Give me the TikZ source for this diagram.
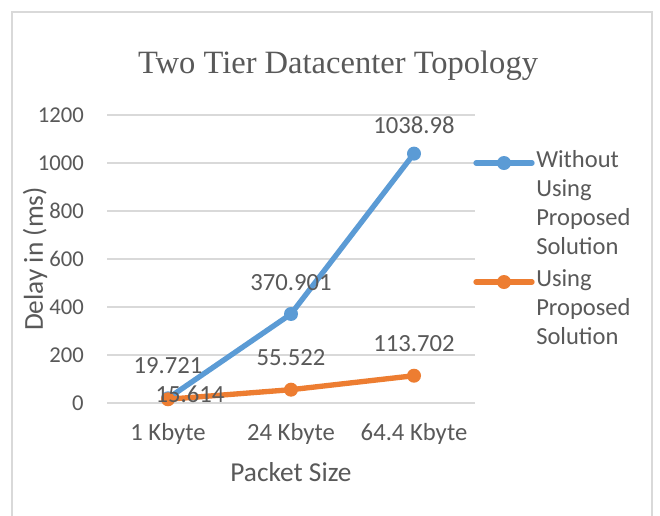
\documentclass[tikz,border=0pt]{standalone}
\usepackage{fontspec}
\setmainfont{Carlito}
\newfontfamily\titlefont{Liberation Serif}
\definecolor{seriesA}{HTML}{5B9BD5}
\definecolor{seriesB}{HTML}{ED7D31}
\definecolor{gridgray}{HTML}{D9D9D9}
\definecolor{txtgray}{HTML}{595959}
\tikzset{
  gridline/.style={draw=gridgray, line width=1.5},
  ticklabel/.style={text=txtgray, font=\fontsize{17}{20}\selectfont, inner sep=0pt},
  catlabel/.style={text=txtgray, font=\fontsize{18.5}{22}\selectfont, inner sep=0pt},
  axistitle/.style={text=txtgray, font=\fontsize{20.5}{24}\selectfont, inner sep=0pt},
  valuelabel/.style={text=txtgray, font=\fontsize{18.5}{22}\selectfont, inner sep=0pt},
  serieslineA/.style={draw=seriesA, line width=4, line cap=round, line join=round},
  serieslineB/.style={draw=seriesB, line width=4, line cap=round, line join=round},
  markA/.style={circle, fill=seriesA, minimum size=10.5pt, inner sep=0pt},
  markB/.style={circle, fill=seriesB, minimum size=10.5pt, inner sep=0pt},
  legendtext/.style={text=txtgray, font=\fontsize{18.4}{21.9}\selectfont, align=left, anchor=north west, inner sep=0pt},
}
\begin{document}
\begin{tikzpicture}[x=0.75pt, y=-0.75pt]
\useasboundingbox (0,0) rectangle (660,515);
\fill[white] (0,0) rectangle (660,515);
% chart frame
\begin{scope}
\clip (0,0) rectangle (660,515);
\draw[gridgray, line width=1.2] (12,530) -- (12,12) -- (652,12) -- (652,530);
\end{scope}

% title
\node[text=txtgray, font=\titlefont\fontsize{24.4}{28}\selectfont] (title) at (338,66) {Two Tier Datacenter Topology};

% horizontal grid and value axis labels
\foreach \v/\name in {0/t0,200/t200,400/t400,600/t600,800/t800,1000/t1000,1200/t1200}{
  \draw[gridline] (107,{403-0.24*\v}) -- (475,{403-0.24*\v});
  \node[ticklabel, anchor=east] (\name) at (84,{403-0.24*\v}) {\v};
}

% category labels
\node[catlabel] (c1) at (168,434) {1 Kbyte};
\node[catlabel] (c2) at (291,434) {24 Kbyte};
\node[catlabel] (c3) at (414,434) {64.4 Kbyte};

% axis titles
\node[axistitle] (xtitle) at (291,472) {Packet Size};
\node[axistitle, rotate=90] (ytitle) at (35,259) {Delay in (ms)};

% data points
\coordinate (a1) at (168,{403-0.24*19.721});
\coordinate (a2) at (291,{403-0.24*370.901});
\coordinate (a3) at (414,{403-0.24*1038.98});
\coordinate (b1) at (168,{403-0.24*15.614});
\coordinate (b2) at (291,{403-0.24*55.522});
\coordinate (b3) at (414,{403-0.24*113.702});

% series without the proposed solution
\draw[serieslineA] (a1) -- (a2) -- (a3);
\foreach \p in {a1,a2,a3} \node[markA] at (\p) {};
% series with the proposed solution
\draw[serieslineB] (b1) -- (b2) -- (b3);
\foreach \p in {b1,b2,b3} \node[markB] at (\p) {};

% data labels
\node[valuelabel] (la1) at (168,366) {19.721};
\node[valuelabel] (la2) at (291,283) {370.901};
\node[valuelabel] (la3) at (414,125) {1038.98};
\node[valuelabel] (lb1) at (190,394) {15.614};
\node[valuelabel] (lb2) at (291,358) {55.522};
\node[valuelabel] (lb3) at (414,344) {113.702};

% legend
\coordinate (ka0) at (476,163);
\coordinate (ka1) at (532,163);
\draw[serieslineA] (ka0) -- (ka1);
\node[markA] (kam) at (504,163) {};
\node[legendtext] (ta) at (536,150) {Without\\Using\\Proposed\\Solution};
\coordinate (kb0) at (476,282);
\coordinate (kb1) at (532,282);
\draw[serieslineB] (kb0) -- (kb1);
\node[markB] (kbm) at (504,282) {};
\node[legendtext] (tb) at (536,269) {Using\\Proposed\\Solution};
\end{tikzpicture}
\end{document}
